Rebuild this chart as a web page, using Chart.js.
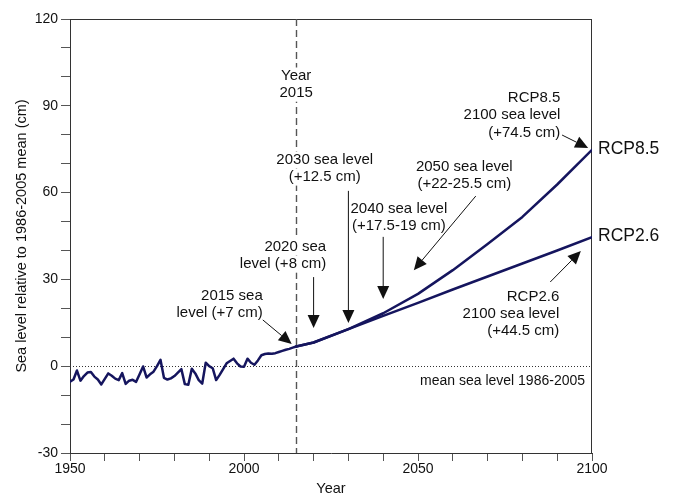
<!DOCTYPE html>
<html>
<head>
<meta charset="utf-8">
<script src="https://cdn.jsdelivr.net/npm/chart.js@4/dist/chart.umd.min.js"></script>
<style>
html,body{margin:0;padding:0;background:#fff;}
canvas{display:block;}
</style>
</head>
<body>
<canvas id="c" width="675" height="498"></canvas>
<script>
// ---- Data ----
const obsYears = [1950,1951,1952,1953,1954,1955,1956,1957,1958,1959,
  1960,1961,1962,1963,1964,1965,1966,1967,1968,1969,
  1970,1971,1972,1973,1974,1975,1976,1977,1978,1979,
  1980,1981,1982,1983,1984,1985,1986,1987,1988,1989,
  1990,1991,1992,1993,1994,1995,1996,1997,1998,1999,
  2000,2001,2002,2003,2004,2005,2006,2007,2008,2009,
  2010,2011,2012,2013,2014,2015];
const observed = [-5.4,-4.6,-1.5,-5.0,-3.4,-2.2,-2.0,-3.6,-4.6,-6.3,
  -4.4,-2.5,-3.3,-4.3,-4.8,-2.4,-6.1,-5.0,-4.7,-5.4,
  -2.8,-0.1,-3.9,-2.8,-1.9,0.0,2.2,-4.0,-4.6,-4.2,
  -3.4,-2.2,-1.0,-6.2,-6.4,-0.9,-2.5,-4.8,-6.0,1.2,
  0.0,-0.7,-4.8,-3.0,-1.0,1.0,1.8,2.6,1.0,-0.1,
  -0.2,2.6,1.2,0.5,2.0,3.8,4.2,4.4,4.3,4.5,
  4.9,5.3,5.7,6.0,6.4,6.8];
const projYears = [2015,2020,2030,2040,2050,2060,2070,2080,2090,2100];
const rcp85 = [6.8,8.2,12.8,18.3,25.0,33.2,42.2,51.6,62.8,74.8];
const rcp26 = [6.8,8.2,12.8,17.4,21.9,26.5,31.0,35.5,40.0,44.6];
const seriesNames = ['Observed','RCP8.5','RCP2.6'];
const yTickLabelStep = 30;
const xTickLabelStep = 50;
const markerYear = 2015;

// ---- Annotations (data coordinates) ----
const notes = [
  {lines:['Year','2015'], x:2015, y:100.3, align:'center'},
  {lines:['2030 sea level','(+12.5 cm)'], x:2023.2, y:71.3, align:'center'},
  {lines:['2050 sea level','(+22-25.5 cm)'], x:2063.3, y:68.8, align:'center'},
  {lines:['2040 sea level','(+17.5-19 cm)'], x:2044.5, y:54.3, align:'center'},
  {lines:['2020 sea','level (+8 cm)'], x:2023.6, y:41.2, align:'right'},
  {lines:['2015 sea','level (+7 cm)'], x:2005.4, y:24.3, align:'right'},
  {lines:['RCP8.5','2100 sea level','(+74.5 cm)'], x:2090.9, y:92.7, align:'right'},
  {lines:['RCP2.6','2100 sea level','(+44.5 cm)'], x:2090.6, y:24.1, align:'right'}
];
const arrows = [
  {from:[2005.4,16.0], to:[2013.7,7.7]},
  {from:[2020,30.8], to:[2020,13.2]},
  {from:[2030,60.6], to:[2030,14.9]},
  {from:[2040,44.7], to:[2040,23.2]},
  {from:[2066.6,58.8], to:[2048.8,33.2]},
  {from:[2091.4,79.9], to:[2098.9,75.4]},
  {from:[2088.0,29.1], to:[2096.8,39.8]}
];
const meanNote = {text:'mean sea level 1986-2005', x:2098, y:-5.1};

const FONT = '"Liberation Sans", Arial, Helvetica, sans-serif';
const lineColor = '#15155e';

function drawArrow(ctx, x1, y1, x2, y2, head, hw) {
  const a = Math.atan2(y2 - y1, x2 - x1);
  const bx = x2 - head * Math.cos(a), by = y2 - head * Math.sin(a);
  ctx.beginPath(); ctx.moveTo(x1, y1); ctx.lineTo(bx, by); ctx.stroke();
  ctx.beginPath();
  ctx.moveTo(x2, y2);
  ctx.lineTo(bx + hw * Math.sin(a), by - hw * Math.cos(a));
  ctx.lineTo(bx - hw * Math.sin(a), by + hw * Math.cos(a));
  ctx.closePath(); ctx.fill();
}

const decor = {
  id: 'decor',
  beforeDatasetsDraw(chart) {
    const {ctx, chartArea: ca, scales: {x, y}} = chart;
    ctx.save();
    // box
    ctx.strokeStyle = '#333'; ctx.lineWidth = 1;
    ctx.beginPath();
    ctx.moveTo(ca.left, ca.top + 0.5); ctx.lineTo(ca.right, ca.top + 0.5);
    ctx.moveTo(ca.right - 0.5, ca.top); ctx.lineTo(ca.right - 0.5, ca.bottom);
    ctx.stroke();
    // zero dotted line
    const y0 = Math.round(y.getPixelForValue(0)) + 0.5;
    ctx.strokeStyle = '#333'; ctx.setLineDash([1, 2]);
    ctx.beginPath(); ctx.moveTo(ca.left, y0); ctx.lineTo(ca.right, y0); ctx.stroke();
    // 2015 dashed line
    const xm = Math.round(x.getPixelForValue(markerYear)) + 0.5;
    ctx.strokeStyle = '#555'; ctx.lineWidth = 1.4; ctx.setLineDash([7, 4]);
    ctx.beginPath(); ctx.moveTo(xm, ca.top); ctx.lineTo(xm, ca.bottom); ctx.stroke();
    ctx.setLineDash([]);
    // notes
    ctx.font = '15px ' + FONT;
    ctx.textBaseline = 'middle';
    const lh = 17.2;
    notes.forEach(n => {
      const px = x.getPixelForValue(n.x), py = y.getPixelForValue(n.y);
      n.lines.forEach((t, i) => {
        const w = ctx.measureText(t).width;
        const ly = py + i * lh;
        let left = n.align === 'right' ? px - w : n.align === 'center' ? px - w / 2 : px;
        ctx.fillStyle = '#fff';
        ctx.fillRect(left - 2, ly - 8.5, w + 4, 17);
        ctx.fillStyle = '#111';
        ctx.textAlign = 'left';
        ctx.fillText(t, left, ly);
      });
    });
    // mean note
    ctx.font = '14px ' + FONT;
    ctx.textAlign = 'right';
    ctx.fillStyle = '#111';
    ctx.fillText(meanNote.text, x.getPixelForValue(meanNote.x), y.getPixelForValue(meanNote.y));
    ctx.restore();
  },
  afterDatasetsDraw(chart) {
    const {ctx, scales: {x, y}} = chart;
    ctx.save();
    ctx.strokeStyle = '#111'; ctx.fillStyle = '#111'; ctx.lineWidth = 1;
    arrows.forEach(a => {
      drawArrow(ctx, x.getPixelForValue(a.from[0]), y.getPixelForValue(a.from[1]),
        x.getPixelForValue(a.to[0]), y.getPixelForValue(a.to[1]), 13, 6);
    });
    // end labels
    ctx.font = '17.5px ' + FONT;
    ctx.textAlign = 'left'; ctx.textBaseline = 'middle';
    ctx.fillStyle = '#111';
    [[1, rcp85], [2, rcp26]].forEach(([i, arr]) => {
      const last = arr.length - 1;
      ctx.fillText(seriesNames[i], x.getPixelForValue(projYears[last]) + 6, y.getPixelForValue(arr[last]) - 1);
    });
    ctx.restore();
  }
};

const toXY = (xs, ys) => xs.map((v, i) => ({x: v, y: ys[i]}));
const dsStyle = {borderColor: lineColor, borderWidth: 2.5, pointRadius: 0, tension: 0, fill: false, borderJoinStyle: 'round', borderCapStyle: 'round'};

new Chart(document.getElementById('c'), {
  type: 'line',
  data: {
    datasets: [
      Object.assign({label: seriesNames[0], data: toXY(obsYears, observed)}, dsStyle),
      Object.assign({label: seriesNames[1], data: toXY(projYears, rcp85)}, dsStyle),
      Object.assign({label: seriesNames[2], data: toXY(projYears, rcp26)}, dsStyle)
    ]
  },
  options: {
    responsive: false,
    animation: false,
    devicePixelRatio: 1,
    layout: {padding: {left: 0, top: 19, right: 83, bottom: 0}},
    plugins: {legend: {display: false}, tooltip: {enabled: false}},
    scales: {
      x: {
        type: 'linear', min: 1950, max: 2100,
        afterFit: s => { s.height = 45; },
        ticks: {stepSize: 10, autoSkip: false, maxRotation: 0, padding: 0, color: '#111',
          font: {family: FONT, size: 14},
          callback: v => (v % xTickLabelStep === 0 ? String(v) : '')},
        grid: {drawOnChartArea: false, drawTicks: true, tickLength: 8, color: '#555'},
        border: {display: true, color: '#333', width: 1},
        title: {display: true, text: 'Year', color: '#111', font: {family: FONT, size: 14.5}, padding: {top: 0, bottom: 0}}
      },
      y: {
        type: 'linear', min: -30, max: 120,
        afterFit: s => { s.width = 70; },
        ticks: {stepSize: 10, autoSkip: false, padding: 3, color: '#111',
          font: {family: FONT, size: 14},
          callback: v => (v % yTickLabelStep === 0 ? String(v) : '')},
        grid: {drawOnChartArea: false, drawTicks: true, tickLength: 9, color: '#555'},
        border: {display: true, color: '#333', width: 1},
        title: {display: true, text: 'Sea level relative to 1986-2005 mean (cm)', color: '#111',
          font: {family: FONT, size: 14.5}, padding: {top: 13, bottom: 0}}
      }
    }
  },
  plugins: [decor]
});
</script>
</body>
</html>
